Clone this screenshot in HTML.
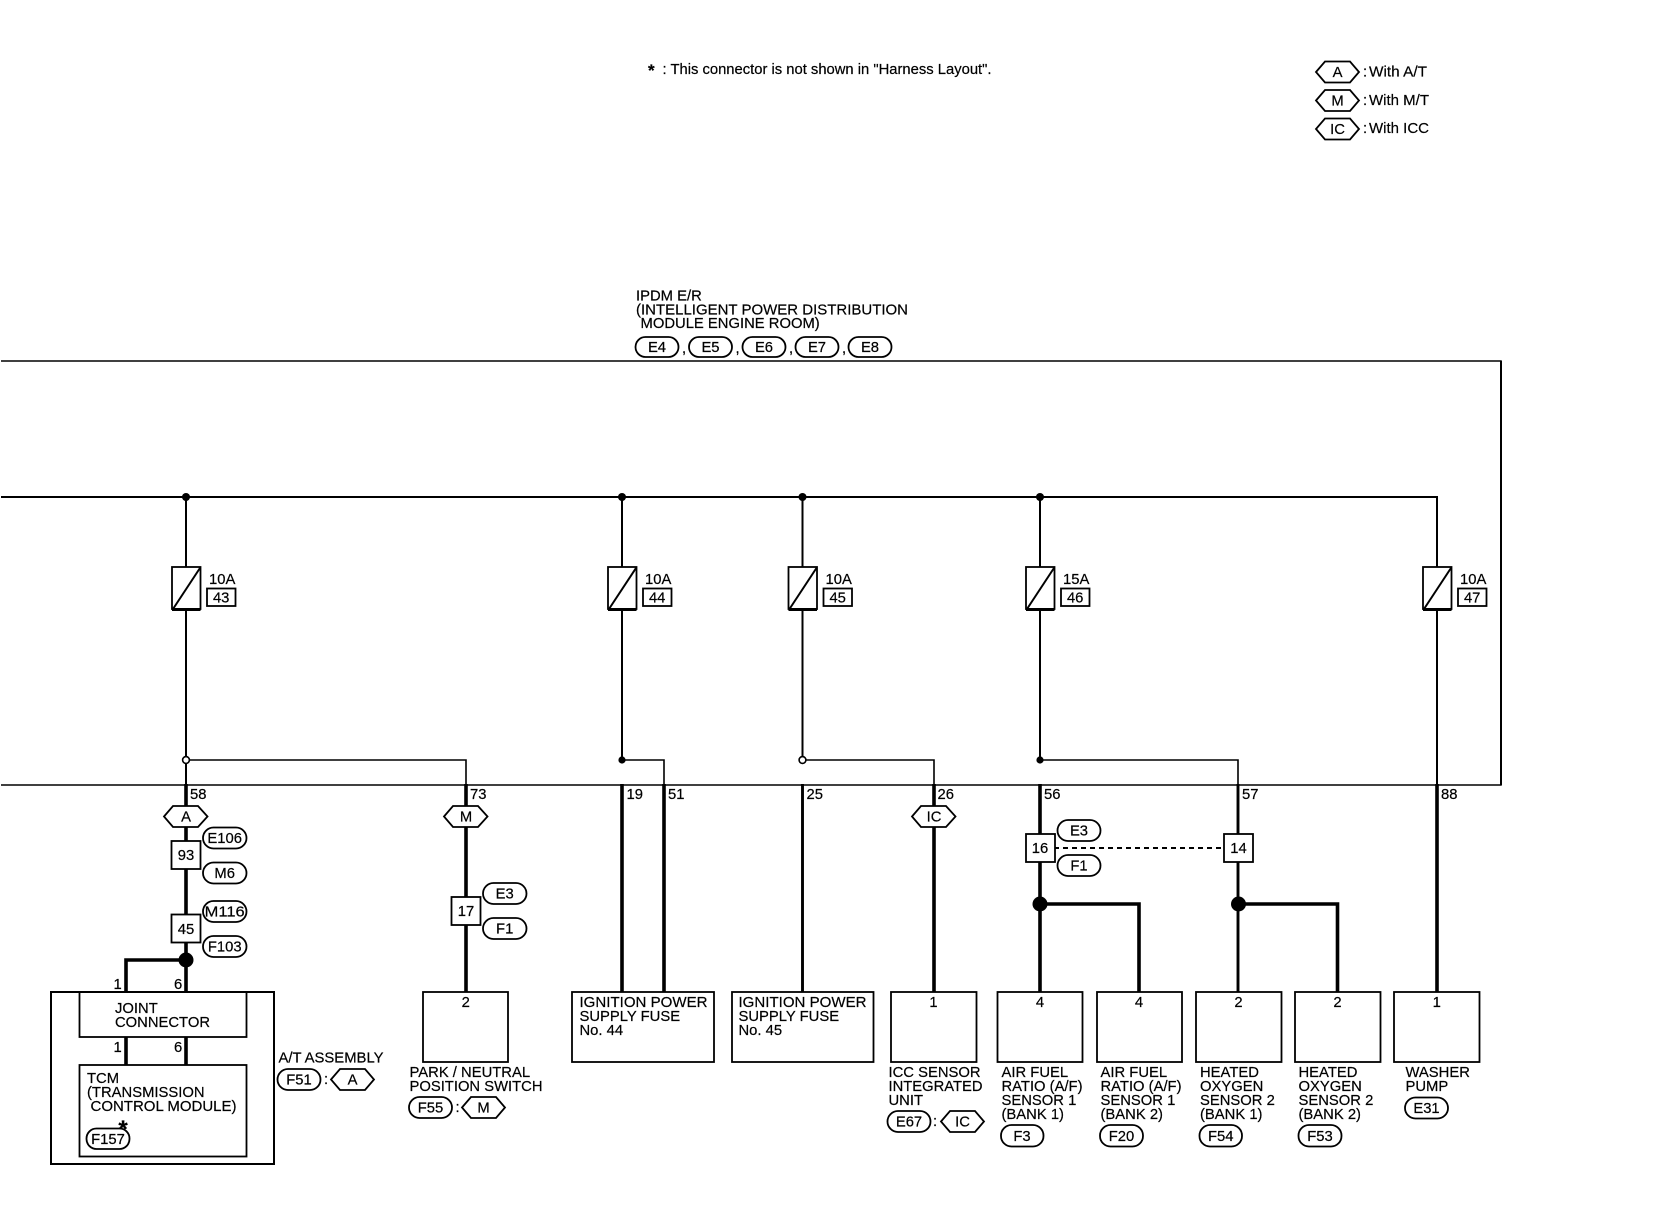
<!DOCTYPE html>
<html lang="en"><head><meta charset="utf-8"><title>IPDM E/R wiring diagram</title>
<style>
html,body{margin:0;padding:0;background:#fff;width:1660px;height:1216px;overflow:hidden}
svg{display:block}
text{font-family:"Liberation Sans",sans-serif;font-size:14.8px;fill:#000;stroke:#000;stroke-width:.2}
.m{text-anchor:middle}
.o{fill:#fff;stroke:#000;stroke-width:1.8}
.h{fill:#fff;stroke:#000;stroke-width:1.8}
.b{fill:none;stroke:#000;stroke-width:1.8}
.w{fill:none;stroke:#000}
</style></head><body>
<svg xmlns="http://www.w3.org/2000/svg" width="1660" height="1216" viewBox="0 0 1660 1216">
<rect width="1660" height="1216" fill="#fff"/>

<!-- note -->
<text x="648" y="76" style="font-size:17px;font-weight:bold">*</text>
<text x="662.5" y="74" textLength="329" lengthAdjust="spacingAndGlyphs">: This connector is not shown in "Harness Layout".</text>

<!-- legend -->
<polygon class="h" points="1316,72 1325,61.5 1350,61.5 1359,72 1350,82.5 1325,82.5"/><text class="m" x="1337.5" y="77">A</text>
<text x="1363" y="76.5">:</text><text x="1369" y="76.5" textLength="58" lengthAdjust="spacingAndGlyphs">With A/T</text>
<polygon class="h" points="1316,100.5 1325,90 1350,90 1359,100.5 1350,111 1325,111"/><text class="m" x="1337.5" y="105.5">M</text>
<text x="1363" y="105">:</text><text x="1369" y="105" textLength="60" lengthAdjust="spacingAndGlyphs">With M/T</text>
<polygon class="h" points="1316,129 1325,118.5 1350,118.5 1359,129 1350,139.5 1325,139.5"/><text class="m" x="1337.5" y="134">IC</text>
<text x="1363" y="133">:</text><text x="1369" y="133" textLength="60" lengthAdjust="spacingAndGlyphs">With ICC</text>

<!-- IPDM title -->
<text x="636" y="300.5">IPDM E/R</text>
<text x="636" y="314.5" textLength="272" lengthAdjust="spacingAndGlyphs">(INTELLIGENT POWER DISTRIBUTION</text>
<text x="640.5" y="328">MODULE ENGINE ROOM)</text>
<rect class="o" x="635.5" y="337" width="43" height="20" rx="10"/><text class="m" x="657" y="352">E4</text>
<text x="682" y="353">,</text>
<rect class="o" x="689" y="337" width="43" height="20" rx="10"/><text class="m" x="710.5" y="352">E5</text>
<text x="735.5" y="353">,</text>
<rect class="o" x="742.5" y="337" width="43" height="20" rx="10"/><text class="m" x="764" y="352">E6</text>
<text x="789" y="353">,</text>
<rect class="o" x="795.5" y="337" width="43" height="20" rx="10"/><text class="m" x="817" y="352">E7</text>
<text x="842" y="353">,</text>
<rect class="o" x="848.5" y="337" width="43" height="20" rx="10"/><text class="m" x="870" y="352">E8</text>

<!-- module outline -->
<path class="w" stroke-width="1.5" d="M1 361H1501V785H1"/>
<path class="w" d="M1501 361V785" stroke-width="2"/>
<!-- bus -->
<path class="w" stroke-width="2" d="M1 497H1437V567"/>
<circle cx="186" cy="497" r="4"/><circle cx="622" cy="497" r="4"/><circle cx="802.5" cy="497" r="4"/><circle cx="1040" cy="497" r="4"/>

<!-- vertical wires to fuses / below -->
<path class="w" stroke-width="2" d="M186 497V760M622 497V760M802.5 497V760M1040 497V760M1437 567V785"/>

<!-- fuse 43 -->
<g>
<rect x="172" y="567" width="28.5" height="42" fill="#fff" stroke="#000" stroke-width="1.8"/><path class="w" stroke-width="3" d="M172 609.5H200.5"/><path class="w" stroke-width="2" d="M173 609L200 568"/>
<text x="209" y="584">10A</text><rect class="b" x="207" y="588.5" width="28.5" height="17.5"/><text class="m" x="221.2" y="602.5">43</text>
</g>
<g>
<rect x="608" y="567" width="28.5" height="42" fill="#fff" stroke="#000" stroke-width="1.8"/><path class="w" stroke-width="3" d="M608 609.5H636.5"/><path class="w" stroke-width="2" d="M609 609L636 568"/>
<text x="645" y="584">10A</text><rect class="b" x="643" y="588.5" width="28.5" height="17.5"/><text class="m" x="657.2" y="602.5">44</text>
</g>
<g>
<rect x="788.5" y="567" width="28.5" height="42" fill="#fff" stroke="#000" stroke-width="1.8"/><path class="w" stroke-width="3" d="M788.5 609.5H817"/><path class="w" stroke-width="2" d="M789.5 609L816.5 568"/>
<text x="825.5" y="584">10A</text><rect class="b" x="823.5" y="588.5" width="28.5" height="17.5"/><text class="m" x="837.7" y="602.5">45</text>
</g>
<g>
<rect x="1026" y="567" width="28.5" height="42" fill="#fff" stroke="#000" stroke-width="1.8"/><path class="w" stroke-width="3" d="M1026 609.5H1054.5"/><path class="w" stroke-width="2" d="M1027 609L1054 568"/>
<text x="1063" y="584">15A</text><rect class="b" x="1061" y="588.5" width="28.5" height="17.5"/><text class="m" x="1075.2" y="602.5">46</text>
</g>
<g>
<rect x="1423" y="567" width="28.5" height="42" fill="#fff" stroke="#000" stroke-width="1.8"/><path class="w" stroke-width="3" d="M1423 609.5H1451.5"/><path class="w" stroke-width="2" d="M1424 609L1451 568"/>
<text x="1460" y="584">10A</text><rect class="b" x="1458" y="588.5" width="28.5" height="17.5"/><text class="m" x="1472.2" y="602.5">47</text>
</g>

<!-- splices at y=760 -->
<path class="w" stroke-width="1.6" d="M186 760H466V785M622 760H664V785M802.5 760H934V785M1040 760H1238V785"/>
<circle cx="186" cy="760" r="3.4" fill="#fff" stroke="#000" stroke-width="1.6"/>
<circle cx="622" cy="760" r="3.6"/>
<circle cx="802.5" cy="760" r="3.4" fill="#fff" stroke="#000" stroke-width="1.6"/>
<circle cx="1040" cy="760" r="3.6"/>
<path class="w" stroke-width="2" d="M186 763V785"/>

<!-- thick wires -->
<path class="w" stroke-width="3.6" d="M186 784V992M186 1037V1065M466 784V992M622 784V992M664 784V992M934 784V992M1040 784V992M1437 784V992M126 992V960H186M126 1037V1065M1040 904H1139V992M1238 904H1337.5V992"/>
<path class="w" stroke-width="2.9" d="M802.5 784V992M1238 784V992"/>
<circle cx="186" cy="960" r="7.5"/><circle cx="1040" cy="904" r="7.5"/><circle cx="1238.5" cy="904" r="7.5"/>
<path stroke="#000" stroke-width="2" stroke-dasharray="5 4" fill="none" d="M1054 848H1224"/>

<!-- pin numbers -->
<text x="190" y="799">58</text><text x="470" y="799">73</text><text x="626.5" y="799">19</text><text x="668" y="799">51</text><text x="806.5" y="799">25</text><text x="937.5" y="799">26</text><text x="1044" y="799">56</text><text x="1242" y="799">57</text><text x="1441" y="799">88</text>

<!-- hexes on wires -->
<polygon class="h" points="164,816.5 173,806 198,806 207.5,816.5 198,827 173,827"/><text class="m" x="186" y="821.5">A</text>
<polygon class="h" points="444,816.5 453,806 478,806 487.5,816.5 478,827 453,827"/><text class="m" x="466" y="821.5">M</text>
<polygon class="h" points="912,816.5 921,806 946,806 955.5,816.5 946,827 921,827"/><text class="m" x="934" y="821.5">IC</text>

<!-- inline connectors -->
<rect class="o" x="171.5" y="841" width="29" height="28"/><text class="m" x="186" y="860">93</text>
<rect class="o" x="171.5" y="914.5" width="29" height="28"/><text class="m" x="186" y="934">45</text>
<rect class="o" x="451.5" y="897" width="29" height="28"/><text class="m" x="466" y="916">17</text>
<rect class="o" x="1026" y="834" width="29" height="28"/><text class="m" x="1040" y="853">16</text>
<rect class="o" x="1224" y="834" width="29" height="28"/><text class="m" x="1238.5" y="853">14</text>

<rect class="o" x="203" y="827.5" width="43.5" height="21" rx="10.5"/><text class="m" x="224.7" y="843">E106</text>
<rect class="o" x="203" y="862.5" width="43.5" height="21" rx="10.5"/><text class="m" x="224.7" y="878">M6</text>
<rect class="o" x="203" y="901" width="43.5" height="21" rx="10.5"/><text class="m" x="224.7" y="916.5" textLength="40" lengthAdjust="spacingAndGlyphs">M116</text>
<rect class="o" x="203" y="936" width="43.5" height="21" rx="10.5"/><text class="m" x="224.7" y="951.5">F103</text>
<rect class="o" x="483" y="883" width="43.5" height="21" rx="10.5"/><text class="m" x="504.7" y="898.5">E3</text>
<rect class="o" x="483" y="918" width="43.5" height="21" rx="10.5"/><text class="m" x="504.7" y="933.5">F1</text>
<rect class="o" x="1057.5" y="820" width="43" height="21" rx="10.5"/><text class="m" x="1079" y="835.5">E3</text>
<rect class="o" x="1057.5" y="855" width="43" height="21" rx="10.5"/><text class="m" x="1079" y="870.5">F1</text>

<!-- A/T assembly -->
<rect x="51" y="992" width="223" height="172" fill="none" stroke="#000" stroke-width="2"/>
<rect class="b" x="79.5" y="992" width="167" height="45"/>
<rect class="b" x="79.5" y="1065" width="167" height="91.5"/>
<text x="113.5" y="989">1</text><text x="174" y="989">6</text>
<text x="113.5" y="1052">1</text><text x="174" y="1052">6</text>
<text x="115" y="1013">JOINT</text>
<text x="115" y="1027" textLength="95" lengthAdjust="spacingAndGlyphs">CONNECTOR</text>
<text x="87" y="1083">TCM</text>
<text x="87" y="1097">(TRANSMISSION</text>
<text x="90.5" y="1111" textLength="146" lengthAdjust="spacingAndGlyphs">CONTROL MODULE)</text>
<text class="m" x="123" y="1137" style="font-size:24px;font-weight:bold">*</text>
<rect class="o" x="86.5" y="1128.5" width="43" height="20.5" rx="10"/><text class="m" x="108" y="1144">F157</text>
<text x="278.5" y="1062.5" textLength="105" lengthAdjust="spacingAndGlyphs">A/T ASSEMBLY</text>
<rect class="o" x="277.5" y="1069" width="43" height="21" rx="10.5"/><text class="m" x="299" y="1084.5">F51</text>
<text x="324" y="1084">:</text>
<polygon class="h" points="331,1079.5 340,1069 365,1069 374,1079.5 365,1090 340,1090"/><text class="m" x="352.5" y="1084.5">A</text>

<!-- park neutral -->
<rect class="b" x="423" y="992" width="85" height="70"/><text class="m" x="465.7" y="1007">2</text>
<text x="409.5" y="1077">PARK / NEUTRAL</text>
<text x="409.5" y="1091" textLength="133" lengthAdjust="spacingAndGlyphs">POSITION SWITCH</text>
<rect class="o" x="409" y="1097" width="43" height="21" rx="10.5"/><text class="m" x="430.5" y="1112.5">F55</text>
<text x="455.5" y="1112">:</text>
<polygon class="h" points="462,1107.5 471,1097 496,1097 505,1107.5 496,1118 471,1118"/><text class="m" x="483.5" y="1112.5">M</text>

<!-- fuse boxes -->
<rect class="b" x="572" y="992" width="142" height="70"/>
<text x="579.5" y="1007" textLength="128" lengthAdjust="spacingAndGlyphs">IGNITION POWER</text><text x="579.5" y="1021">SUPPLY FUSE</text><text x="579.5" y="1035">No. 44</text>
<rect class="b" x="732" y="992" width="141.5" height="70"/>
<text x="738.5" y="1007" textLength="128" lengthAdjust="spacingAndGlyphs">IGNITION POWER</text><text x="738.5" y="1021">SUPPLY FUSE</text><text x="738.5" y="1035">No. 45</text>

<!-- ICC -->
<rect class="b" x="891" y="992" width="85.5" height="70"/><text class="m" x="933.5" y="1007">1</text>
<text x="888.5" y="1077">ICC SENSOR</text><text x="888.5" y="1091" textLength="94" lengthAdjust="spacingAndGlyphs">INTEGRATED</text><text x="888.5" y="1105">UNIT</text>
<rect class="o" x="887.5" y="1111" width="43" height="21" rx="10.5"/><text class="m" x="909" y="1126.5">E67</text>
<text x="933" y="1126">:</text>
<polygon class="h" points="941,1121.5 950,1111 975,1111 984,1121.5 975,1132 950,1132"/><text class="m" x="962.5" y="1126.5">IC</text>

<!-- sensors -->
<rect class="b" x="997.5" y="992" width="85" height="70"/><text class="m" x="1040" y="1007">4</text>
<text x="1001.5" y="1077">AIR FUEL</text><text x="1001.5" y="1091" textLength="81" lengthAdjust="spacingAndGlyphs">RATIO (A/F)</text><text x="1001.5" y="1105">SENSOR 1</text><text x="1001.5" y="1119">(BANK 1)</text>
<rect class="o" x="1001" y="1125" width="42.5" height="21.5" rx="10.5"/><text class="m" x="1022" y="1141">F3</text>

<rect class="b" x="1097" y="992" width="85" height="70"/><text class="m" x="1139" y="1007">4</text>
<text x="1100.5" y="1077">AIR FUEL</text><text x="1100.5" y="1091" textLength="81" lengthAdjust="spacingAndGlyphs">RATIO (A/F)</text><text x="1100.5" y="1105">SENSOR 1</text><text x="1100.5" y="1119">(BANK 2)</text>
<rect class="o" x="1100" y="1125" width="43" height="21.5" rx="10.5"/><text class="m" x="1121.5" y="1141">F20</text>

<rect class="b" x="1196" y="992" width="85.5" height="70"/><text class="m" x="1238.5" y="1007">2</text>
<text x="1200" y="1077">HEATED</text><text x="1200" y="1091">OXYGEN</text><text x="1200" y="1105">SENSOR 2</text><text x="1200" y="1119">(BANK 1)</text>
<rect class="o" x="1199.5" y="1125" width="42.5" height="21.5" rx="10.5"/><text class="m" x="1220.7" y="1141">F54</text>

<rect class="b" x="1295" y="992" width="85.5" height="70"/><text class="m" x="1337.5" y="1007">2</text>
<text x="1298.5" y="1077">HEATED</text><text x="1298.5" y="1091">OXYGEN</text><text x="1298.5" y="1105">SENSOR 2</text><text x="1298.5" y="1119">(BANK 2)</text>
<rect class="o" x="1298.5" y="1125" width="43" height="21.5" rx="10.5"/><text class="m" x="1320" y="1141">F53</text>

<rect class="b" x="1394" y="992" width="85.5" height="70"/><text class="m" x="1436.7" y="1007">1</text>
<text x="1405.5" y="1077">WASHER</text><text x="1405.5" y="1091">PUMP</text>
<rect class="o" x="1405" y="1097.5" width="43" height="21" rx="10.5"/><text class="m" x="1426.5" y="1113">E31</text>
</svg>
</body></html>
